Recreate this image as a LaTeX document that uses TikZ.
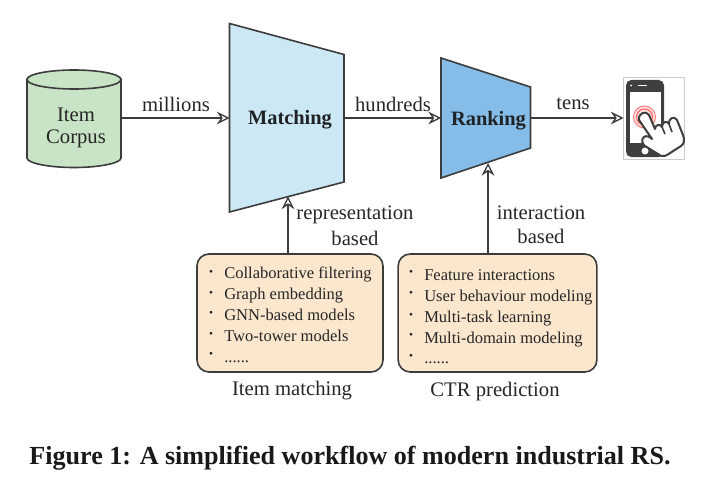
\documentclass[tikz,border=0pt]{standalone}
\usepackage{fontspec}
\setmainfont{Liberation Serif}
\usetikzlibrary{arrows.meta}
\definecolor{ln}{HTML}{3C3C3C}
\definecolor{tx}{HTML}{262626}
\definecolor{cyl}{HTML}{C9E3C6}
\definecolor{mt}{HTML}{CDE8F5}
\definecolor{rk}{HTML}{85BDE8}
\definecolor{bx}{HTML}{FBE6CE}
\definecolor{ph}{HTML}{3F3F3F}
\newcommand{\sixdots}{{.}{.}{.}{.}{.}{.}}
\tikzset{
  x=0.75pt,y=-0.75pt,
  shapeline/.style={draw=ln,line width=1.2pt,line join=miter},
  conn/.style={draw=ln,line width=1.2pt,-{Stealth[open,length=9.5pt,width=9.5pt,inset=3.2pt,line width=1pt]}},
  lab/.style={inner sep=0pt,text=tx,font=\fontsize{15.5}{18}\selectfont},
  blab/.style={inner sep=0pt,text=black!85!mt,font=\fontsize{15.3}{18}\selectfont\bfseries},
  itemtxt/.style={inner sep=0pt,anchor=base west,text=tx,font=\fontsize{12.4}{15}\selectfont},
  bul/.style={inner sep=0pt,text=tx,font=\fontsize{8.5}{9}\selectfont},
  listbox/.style={draw=ln,fill=bx,line width=1.2pt,rounded corners=9pt,inner sep=0pt},
}
\begin{document}
\begin{tikzpicture}
\useasboundingbox (0,0) rectangle (706,478);
% cylinder
\path[shapeline,fill=cyl] (27,79.5) -- (27,158) .. controls (27,163) and (48,167.5) .. (74,167.5) .. controls (100,167.5) and (121,163) .. (121,158) -- (121,79.5) -- cycle;
\path[shapeline,fill=cyl] (74,79.5) ellipse[x radius=47,y radius=9.5];
\coordinate (corpusE) at (121,118);
\node[lab] (item) at (76,114.5) {Item};
\node[lab] (corpus) at (76,139) {Corpus};
% trapezoids
\path[shapeline,fill=mt] (229.5,23.5) -- (344,54.5) -- (344,182) -- (229.5,212) -- cycle;
\path[shapeline,fill=rk] (441,58) -- (530.5,87) -- (530.5,148) -- (441,178) -- cycle;
\coordinate (matchW) at (229.5,118);
\coordinate (matchE) at (344,118);
\coordinate (matchS) at (288,196.5);
\coordinate (rankW) at (441,118);
\coordinate (rankE) at (530.5,118);
\coordinate (rankS) at (488,163);
\node[blab] (matching) at (290,120) {Matching};
\node[blab] (ranking) at (488.5,121) {Ranking};
% list boxes
\node[listbox,minimum width=139.5pt,minimum height=88.5pt] (left) at (290,313) {};
\node[listbox,minimum width=149pt,minimum height=88.5pt] (right) at (497.5,313) {};
\coordinate (leftN) at (288,254);
\coordinate (rightN) at (488,254);
% phone
\node[draw=black!20,line width=0.5pt,minimum width=45.5pt,minimum height=61pt,inner sep=0pt] (phone) at (654,118.5) {};
\fill[ph,rounded corners=4pt] (626,80) rectangle (664,157);
\fill[white] (630,92) rectangle (661,143);
\fill[white] (631,85.5) circle (1);
\fill[white] (638,84.5) rectangle (647,86);
\fill[white] (645,151) circle (3.5);
\draw[red!55!white,line width=0.7pt,fill=red!10] (644.5,117) circle (11);
\draw[red!60!white,line width=0.9pt] (644.5,117) circle (8);
\draw[ph,line width=1.5pt,fill=white,line join=round]
  (639,120) .. controls (638,113) and (646,110) .. (649,115)
  -- (655,129)
  .. controls (655,125) and (660,123) .. (662,127)
  .. controls (662,122) and (667,120) .. (669,124)
  .. controls (668,119) and (674,115) .. (677,120)
  -- (683,135) .. controls (685,140) and (684,144) .. (681,146)
  -- (667,155) .. controls (664,157) and (660,156) .. (658,154)
  -- (645,146) .. controls (642,144) and (641,139) .. (644,137)
  .. controls (646,135) and (650,137) .. (652,139)
  -- cycle;
\draw[ph,line width=1.2pt] (662,127) -- (665,134) (669,124) -- (672,132);
\coordinate (phoneW) at (623.5,118);
% connectors
\path[conn] (corpusE) -- (matchW);
\path[conn] (matchE) -- (rankW);
\path[conn] (rankE) -- (phoneW);
\path[conn] (leftN) -- (matchS);
\path[conn] (rightN) -- (rankS);
% labels
\node[lab] (millions) at (176,104.5) {millions};
\node[lab] (hundreds) at (393,104.5) {hundreds};
\node[lab] (tens) at (573,104) {tens};
\node[lab] (repr) at (355,215) {representation};
\node[lab] (reprb) at (355,238) {based};
\node[lab] (inter) at (541,212.5) {interaction};
\node[lab] (interb) at (541,236) {based};
\node[lab] (itm) at (292,391) {Item matching};
\node[lab] (ctr) at (495,392) {CTR prediction};
% left list
\foreach \n/\yy/\by/\t in {a/278/273/Collaborative filtering,b/299/294/Graph embedding,c/320/314/GNN-based models,d/341/335/Two-tower models,e/362/355/\sixdots}{
  \node[itemtxt] (l\n) at (224,\yy) {\t};
  \node[bul] (lb\n) at (211,\by) {•};
}
% right list
\foreach \n/\yy/\by/\t in {a/280/273/Feature interactions,b/301/294/User behaviour modeling,c/322/316/Multi-task learning,d/343/336/Multi-domain modeling,e/363/357/\sixdots}{
  \node[itemtxt] (r\n) at (424,\yy) {\t};
  \node[bul] (rb\n) at (411,\by) {•};
}
% caption
\node[inner sep=0pt,anchor=base,text=black!90,font=\fontsize{19.55}{22}\selectfont\bfseries] (cap) at (350,464) {Figure 1: A simplified workflow of modern industrial RS.};
\end{tikzpicture}
\end{document}
